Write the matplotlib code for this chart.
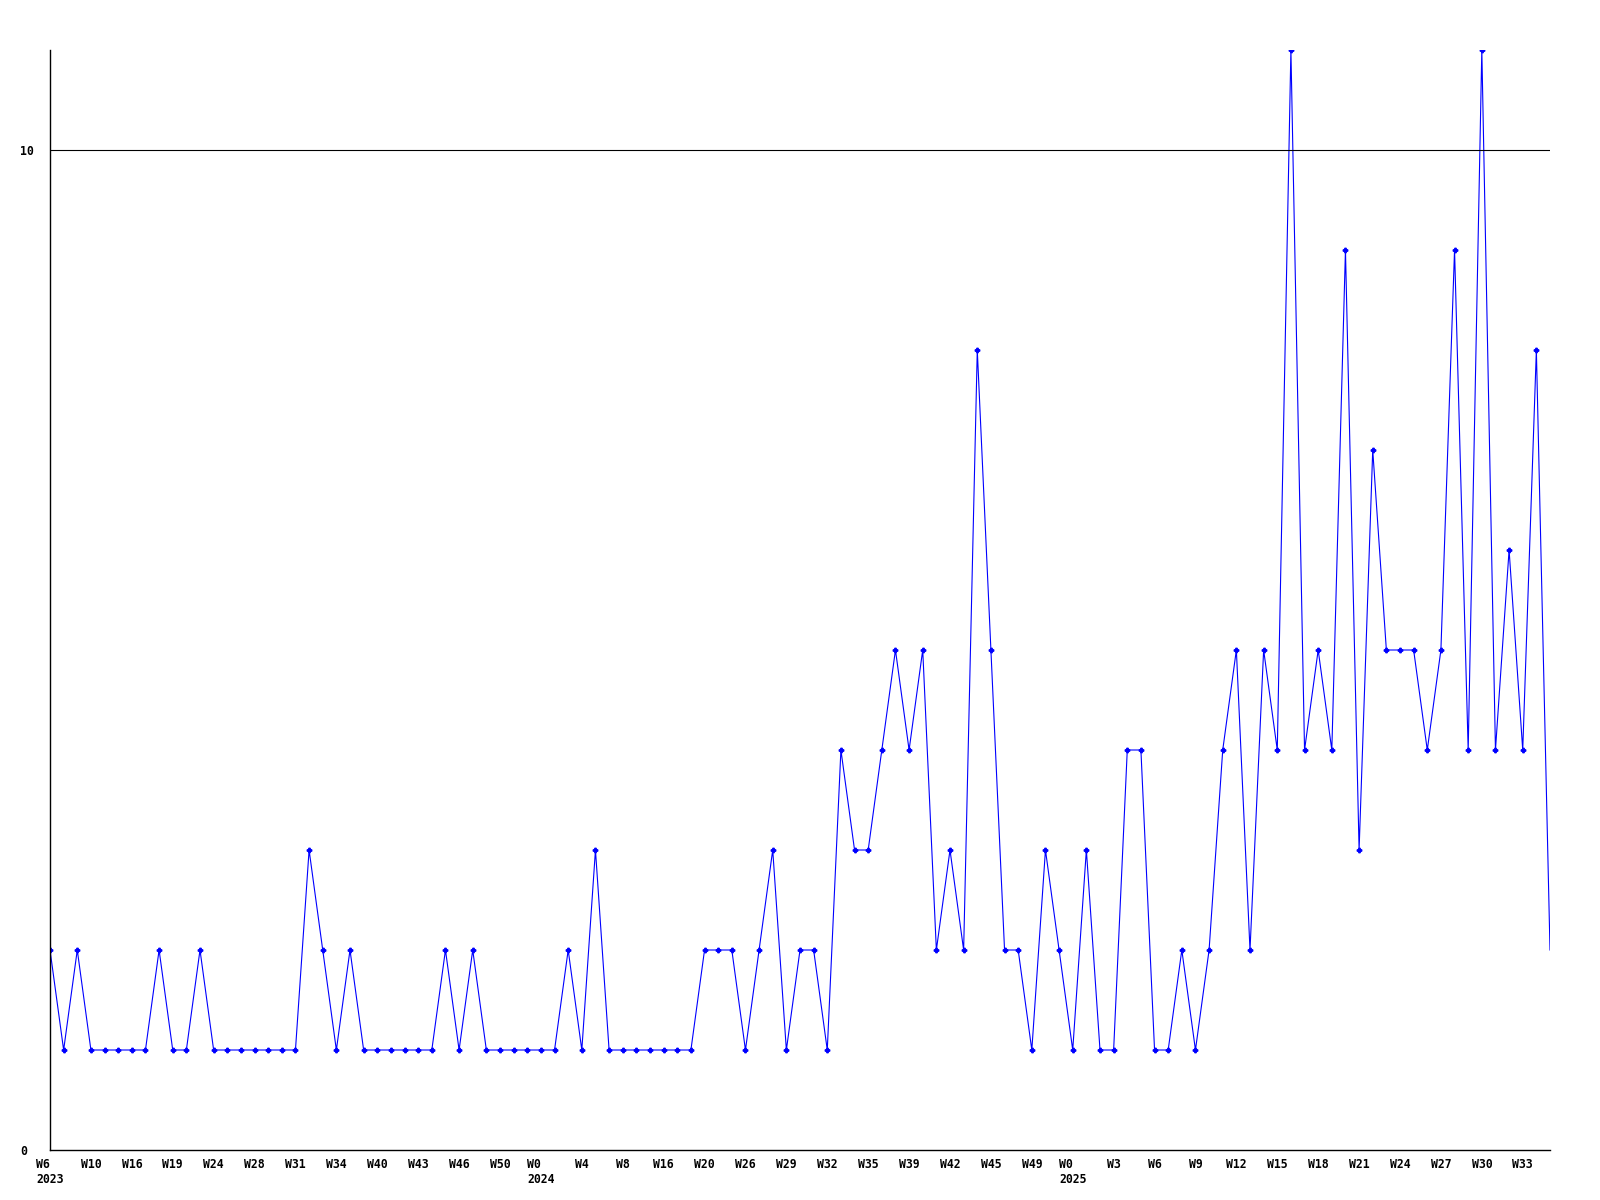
import matplotlib
matplotlib.use('Agg')
import matplotlib.pyplot as plt

# weekly counts, one point per week shown on the axis
counts = [
    2, 1, 2, 1, 1, 1, 1, 1, 2, 1,
    1, 2, 1, 1, 1, 1, 1, 1, 1, 3,
    2, 1, 2, 1, 1, 1, 1, 1, 1, 2,
    1, 2, 1, 1, 1, 1, 1, 1, 2, 1,
    3, 1, 1, 1, 1, 1, 1, 1, 2, 2,
    2, 1, 2, 3, 1, 2, 2, 1, 4, 3,
    3, 4, 5, 4, 5, 2, 3, 2, 8, 5,
    2, 2, 1, 3, 2, 1, 3, 1, 1, 4,
    4, 1, 1, 2, 1, 2, 4, 5, 2, 5,
    4, 11, 4, 5, 4, 9, 3, 7, 5, 5,
    5, 4, 5, 9, 4, 11, 4, 6, 4, 8,
    2,
]

# every third week gets a label
tick_labels = [
    'W6\n2023', 'W10', 'W16', 'W19', 'W24', 'W28', 'W31', 'W34', 'W40', 'W43',
    'W46', 'W50', 'W0\n2024', 'W4', 'W8', 'W16', 'W20', 'W26', 'W29', 'W32',
    'W35', 'W39', 'W42', 'W45', 'W49', 'W0\n2025', 'W3', 'W6', 'W9', 'W12',
    'W15', 'W18', 'W21', 'W24', 'W27', 'W30', 'W33',
]
y_ticks = [0, 10]

font = {'family': 'DejaVu Sans Mono', 'weight': 'bold', 'size': 8.3}

fig = plt.figure(figsize=(16, 12), dpi=100)
ax = fig.add_axes([50 / 1600, 50 / 1200, 1500 / 1600, 1100 / 1200])

x = list(range(len(counts)))
ax.plot(x, counts, color='#0000ff', lw=0.8, marker='P', ms=3.2,
        markevery=list(range(len(counts) - 1)))
ax.axhline(10, color='black', lw=0.8)

ax.set_xlim(0, len(counts) - 1)
ax.set_ylim(0, 11)

ax.set_xticks(range(0, len(counts), 3))
ax.set_xticklabels(tick_labels, fontdict=font, ha='center',
                   multialignment='left', linespacing=1.15)
ax.set_yticks(y_ticks)
ax.set_yticklabels([str(v) for v in y_ticks], fontdict=font, ha='left')
ax.tick_params(axis='x', length=0, pad=6)
ax.tick_params(axis='y', length=0, pad=21.6)

for side in ('top', 'right'):
    ax.spines[side].set_visible(False)
for side in ('left', 'bottom'):
    ax.spines[side].set_linewidth(1)

fig.savefig('out.png', dpi=100, facecolor='white')
